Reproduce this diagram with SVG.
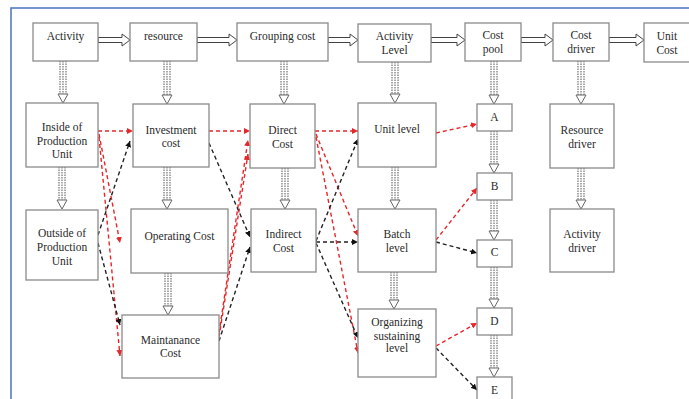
<svg xmlns="http://www.w3.org/2000/svg" width="689" height="399" viewBox="0 0 689 399">
<style>
.box{fill:#fff;stroke:#8a8a8a;stroke-width:1.3}
text{font-family:"Liberation Serif","Times New Roman",serif;font-size:11.5px;fill:#2a2a2a;text-anchor:middle}
.red{fill:none;stroke:#e8262a;stroke-width:1.4;stroke-dasharray:4 3;marker-end:url(#ar)}
.blk{fill:none;stroke:#222;stroke-width:1.4;stroke-dasharray:4 3;marker-end:url(#ab)}
.h{fill:#fff;stroke:#444;stroke-width:1}
.vs{fill:none;stroke:#555;stroke-width:1;stroke-dasharray:1.5 1}
.vh{fill:#fff;stroke:#666;stroke-width:1}
</style>
<defs>
<marker id="ar" viewBox="0 0 10 10" refX="10" refY="5" markerWidth="6" markerHeight="6" orient="auto" markerUnits="userSpaceOnUse"><path d="M0,0 L10,5 L0,10 z" fill="#e8262a"/></marker>
<marker id="ab" viewBox="0 0 10 10" refX="10" refY="5" markerWidth="6" markerHeight="6" orient="auto" markerUnits="userSpaceOnUse"><path d="M0,0 L10,5 L0,10 z" fill="#111"/></marker>
</defs>
<rect x="11" y="8" width="700" height="420" fill="#fff" stroke="#4a72c0" stroke-width="1.5"/>

<g id="connectors">
<path class="h" d="M98,37.5 H122 V34 L130,40 L122,46 V42.5 H98 Z"/>
<path class="h" d="M197,37.5 H229 V34 L237,40 L229,46 V42.5 H197 Z"/>
<path class="h" d="M328,37.5 H350 V34 L358,40 L350,46 V42.5 H328 Z"/>
<path class="h" d="M431,37.5 H457 V34 L465,40 L457,46 V42.5 H431 Z"/>
<path class="h" d="M521,37.5 H545 V34 L553,40 L545,46 V42.5 H521 Z"/>
<path class="h" d="M609,37.5 H636 V34 L644,40 L636,46 V42.5 H609 Z"/>
<g>
<path class="vs" d="M60,61 V94 M63,61 V94 M66,61 V94"/><path class="vh" d="M58,94 H68 L63,103 Z"/>
<path class="vs" d="M59,167 V200 M62,167 V200 M65,167 V200"/><path class="vh" d="M57,200 H67 L62,209 Z"/>
<path class="vs" d="M164,61 V95 M167,61 V95 M170,61 V95"/><path class="vh" d="M162,95 H172 L167,104 Z"/>
<path class="vs" d="M164,167 V200 M167,167 V200 M170,167 V200"/><path class="vh" d="M162,200 H172 L167,209 Z"/>
<path class="vs" d="M165,273 V306 M168,273 V306 M171,273 V306"/><path class="vh" d="M163,306 H173 L168,315 Z"/>
<path class="vs" d="M281,61 V95 M284,61 V95 M287,61 V95"/><path class="vh" d="M279,95 H289 L284,104 Z"/>
<path class="vs" d="M282,168 V200 M285,168 V200 M288,168 V200"/><path class="vh" d="M280,200 H290 L285,209 Z"/>
<path class="vs" d="M392,62 V94 M395,62 V94 M398,62 V94"/><path class="vh" d="M390,94 H400 L395,103 Z"/>
<path class="vs" d="M392,167 V200 M395,167 V200 M398,167 V200"/><path class="vh" d="M390,200 H400 L395,209 Z"/>
<path class="vs" d="M391,272 V300 M394,272 V300 M397,272 V300"/><path class="vh" d="M389,300 H399 L394,309 Z"/>
<path class="vs" d="M491,61 V95 M494,61 V95 M497,61 V95"/><path class="vh" d="M489,95 H499 L494,104 Z"/>
<path class="vs" d="M491,131 V164 M494,131 V164 M497,131 V164"/><path class="vh" d="M489,164 H499 L494,173 Z"/>
<path class="vs" d="M491,200 V231 M494,200 V231 M497,200 V231"/><path class="vh" d="M489,231 H499 L494,240 Z"/>
<path class="vs" d="M491,267 V299 M494,267 V299 M497,267 V299"/><path class="vh" d="M489,299 H499 L494,308 Z"/>
<path class="vs" d="M491,335 V368 M494,335 V368 M497,335 V368"/><path class="vh" d="M489,368 H499 L494,377 Z"/>
<path class="vs" d="M578,61 V95 M581,61 V95 M584,61 V95"/><path class="vh" d="M576,95 H586 L581,104 Z"/>
<path class="vs" d="M578,168 V200 M581,168 V200 M584,168 V200"/><path class="vh" d="M576,200 H586 L581,209 Z"/>
</g>
<path class="red" d="M98,131 L133,131"/>
<path class="red" d="M99,134 L120,243"/>
<path class="red" d="M99,137 L120,356"/>
<path class="red" d="M209,131 L250,131"/>
<path class="red" d="M219,333 L248,140"/>
<path class="red" d="M219,337 L248,154"/>
<path class="red" d="M315,131 L358,131"/>
<path class="red" d="M316,134 L358,236"/>
<path class="red" d="M316,137 L358,353"/>
<path class="red" d="M436,133 L477,124"/>
<path class="red" d="M436,240 L477,188"/>
<path class="red" d="M436,346 L477,323"/>
<path class="blk" d="M98,235 L130,141"/>
<path class="blk" d="M98,243 L120,325"/>
<path class="blk" d="M209,143 L250,237"/>
<path class="blk" d="M219,341 L250,247"/>
<path class="blk" d="M316,241 L358,139"/>
<path class="blk" d="M316,242 L358,242"/>
<path class="blk" d="M316,243 L358,338"/>
<path class="blk" d="M436,242 L477,253"/>
<path class="blk" d="M436,348 L477,390"/>
</g>

<g id="activity"><rect class="box" x="33" y="23" width="65" height="38"/><text x="65.5" y="40">Activity</text></g>
<g id="resource"><rect class="box" x="130" y="23" width="67" height="38"/><text x="163.5" y="40">resource</text></g>
<g id="grouping-cost"><rect class="box" x="237" y="23" width="91" height="38"/><text x="282.5" y="40">Grouping cost</text></g>
<g id="activity-level"><rect class="box" x="358" y="24" width="73" height="38"/><text x="394.5" y="40">Activity</text><text x="394.5" y="54">Level</text></g>
<g id="cost-pool"><rect class="box" x="465" y="23" width="56" height="38"/><text x="493" y="39">Cost</text><text x="493" y="53">pool</text></g>
<g id="cost-driver"><rect class="box" x="553" y="23" width="56" height="38"/><text x="581" y="39">Cost</text><text x="581" y="53">driver</text></g>
<g id="unit-cost"><rect class="box" x="644" y="23" width="50" height="39"/><text x="667" y="40">Unit</text><text x="667" y="54">Cost</text></g>

<g id="inside-production"><rect class="box" x="26" y="103" width="72" height="64"/><text x="62" y="131">Inside of</text><text x="62" y="145">Production</text><text x="62" y="158">Unit</text></g>
<g id="investment-cost"><rect class="box" x="133" y="104" width="76" height="63"/><text x="171" y="134">Investment</text><text x="171" y="147">cost</text></g>
<g id="direct-cost"><rect class="box" x="250" y="104" width="65" height="64"/><text x="282.5" y="134">Direct</text><text x="282.5" y="148">Cost</text></g>
<g id="unit-level"><rect class="box" x="358" y="103" width="78" height="64"/><text x="397" y="133">Unit level</text></g>
<g id="a"><rect class="box" x="477" y="104" width="35" height="27"/><text x="494.5" y="121">A</text></g>
<g id="resource-driver"><rect class="box" x="550" y="104" width="64" height="64"/><text x="582" y="134">Resource</text><text x="582" y="148">driver</text></g>
<g id="b"><rect class="box" x="477" y="173" width="35" height="27"/><text x="494.5" y="190">B</text></g>

<g id="outside-production"><rect class="box" x="26" y="210" width="72" height="70"/><text x="62" y="237">Outside of</text><text x="62" y="251">Production</text><text x="62" y="265">Unit</text></g>
<g id="operating-cost"><rect class="box" x="131" y="209" width="97" height="64"/><text x="179.5" y="240">Operating Cost</text></g>
<g id="indirect-cost"><rect class="box" x="251" y="209" width="65" height="63"/><text x="283.5" y="238">Indirect</text><text x="283.5" y="252">Cost</text></g>
<g id="batch-level"><rect class="box" x="358" y="209" width="78" height="63"/><text x="397" y="238">Batch</text><text x="397" y="252">level</text></g>
<g id="c"><rect class="box" x="477" y="240" width="35" height="27"/><text x="494.5" y="256">C</text></g>
<g id="activity-driver"><rect class="box" x="550" y="209" width="64" height="63"/><text x="582" y="238">Activity</text><text x="582" y="252">driver</text></g>

<g id="maintanance-cost"><rect class="box" x="122" y="315" width="97" height="63"/><text x="170.5" y="344">Maintanance</text><text x="170.5" y="357">Cost</text></g>
<g id="organizing-level"><rect class="box" x="358" y="309" width="78" height="68"/><text x="397" y="326">Organizing</text><text x="397" y="340">sustaining</text><text x="397" y="352">level</text></g>
<g id="d"><rect class="box" x="477" y="308" width="35" height="27"/><text x="494.5" y="325">D</text></g>
<g id="e"><rect class="box" x="477" y="377" width="35" height="30"/><text x="494.5" y="394">E</text></g>
</svg>
